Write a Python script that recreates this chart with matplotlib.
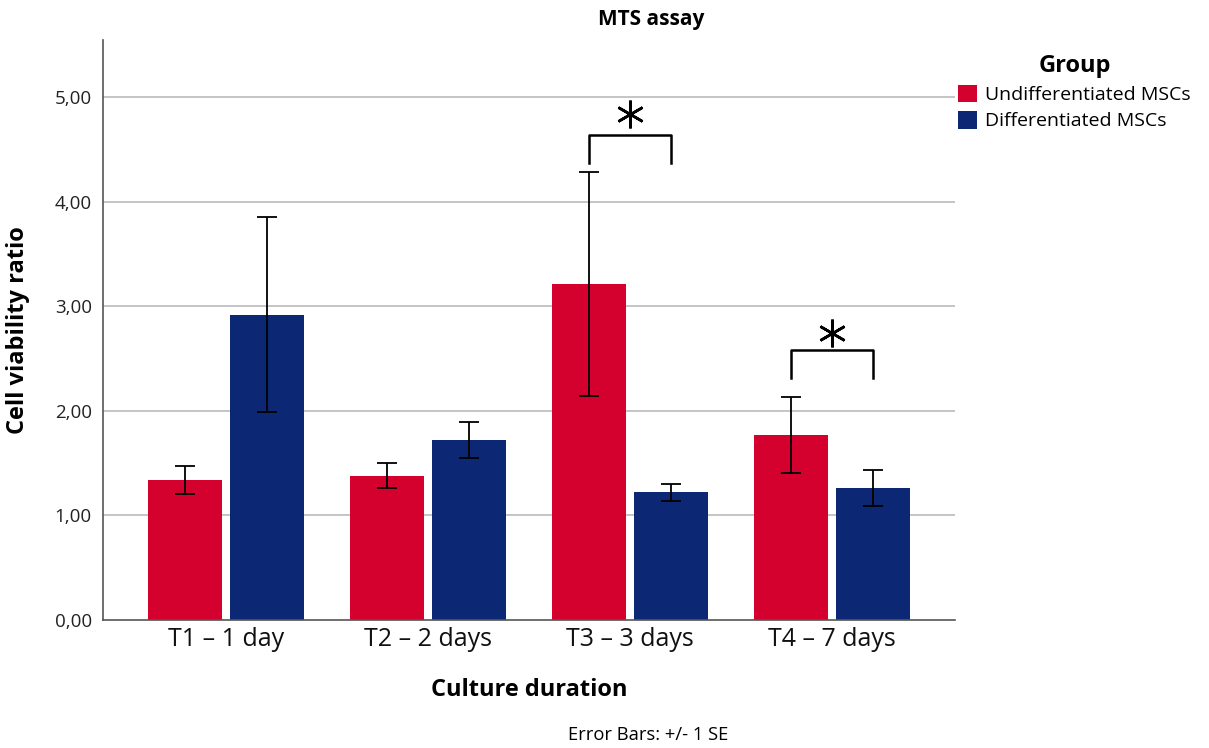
import matplotlib
matplotlib.use('Agg')
import matplotlib.pyplot as plt
import numpy as np
from matplotlib.ticker import FuncFormatter

# ---- data ----
timepoints = ['T1 – 1 day', 'T2 – 2 days', 'T3 – 3 days', 'T4 – 7 days']
groups = ['Undifferentiated MSCs', 'Differentiated MSCs']
undiff_mean = [1.34, 1.38, 3.21, 1.77]
undiff_se = [0.13, 0.12, 1.07, 0.36]
diff_mean = [2.92, 1.72, 1.22, 1.26]
diff_se = [0.93, 0.17, 0.08, 0.17]
# significance brackets: (timepoint index, bracket top, star y)
sig_idx = [2, 3]
sig_top = [4.64, 2.58]
sig_star = [4.84, 2.74]

red = '#D4002E'
blue = '#0C2874'

plt.rcParams['font.family'] = ['Open Sans', 'DejaVu Sans']

fig = plt.figure(figsize=(12.09, 7.48), dpi=100)
ax = fig.add_axes([0.0852, 0.171, 0.705, 0.7755])

x = np.arange(len(timepoints))
w = 0.366
off = 0.203
ekw = dict(ecolor='black', elinewidth=1.3, capthick=1.3)
ax.bar(x - off, undiff_mean, w, color=red, label=groups[0], zorder=2)
ax.bar(x + off, diff_mean, w, color=blue, label=groups[1], zorder=2)
ax.errorbar(x - off, undiff_mean, yerr=undiff_se, fmt='none', capsize=7, zorder=3, **ekw)
ax.errorbar(x + off, diff_mean, yerr=diff_se, fmt='none', capsize=7, zorder=3, **ekw)

# significance brackets
for i, top, sy in zip(sig_idx, sig_top, sig_star):
    x0, x1 = i - off, i + off
    ax.plot([x0, x0, x1, x1], [top - 0.27, top, top, top - 0.27],
            color='black', lw=1.8, zorder=4)
    ax.plot([i], [sy], marker=(6, 2, 0), markersize=20, mew=1.9,
            color='black', zorder=4)

ax.set_xlim(-0.609, 3.609)
ax.set_ylim(0, 5.545)
ax.set_yticks([0, 1, 2, 3, 4, 5])
ax.yaxis.set_major_formatter(FuncFormatter(lambda v, p: f'{v:.2f}'.replace('.', ',')))
ax.set_xticks(x)
ax.set_xticklabels(timepoints, fontsize=18)
ax.tick_params(axis='y', length=0, pad=8, labelsize=13.5, labelcolor='#222222')
ax.tick_params(axis='x', length=0, pad=5, labelcolor='#111111')

for yv in [1, 2, 3, 4, 5]:
    ax.axhline(yv, color='#BBBBBB', lw=1.2, zorder=1)

for s in ['top', 'right']:
    ax.spines[s].set_visible(False)
for s in ['left', 'bottom']:
    ax.spines[s].set_color('#555555')
    ax.spines[s].set_linewidth(1.2)

ax.set_ylabel('Cell viability ratio', fontsize=17, fontweight='bold')
ax.yaxis.set_label_coords(-0.086, 0.5)
ax.text(0.5, -0.121, 'Culture duration', transform=ax.transAxes,
        ha='center', va='center', fontsize=17, fontweight='bold')

fig.text(651 / 1209, 1 - 20 / 748, 'MTS assay', ha='center', va='center',
         fontsize=15, fontweight='bold')
fig.text(648 / 1209, 1 - 735 / 748, 'Error Bars: +/- 1 SE', ha='center',
         va='center', fontsize=13.2)

leg = fig.legend(loc='upper left', bbox_to_anchor=(0.786, 0.938), frameon=False,
                 title='Group', fontsize=14, handlelength=1.0, handleheight=1.0,
                 handletextpad=0.4, labelspacing=0.35, borderaxespad=0)
leg.get_title().set_fontweight('bold')
leg.get_title().set_fontsize(17)

fig.savefig('out.png', dpi=100)
